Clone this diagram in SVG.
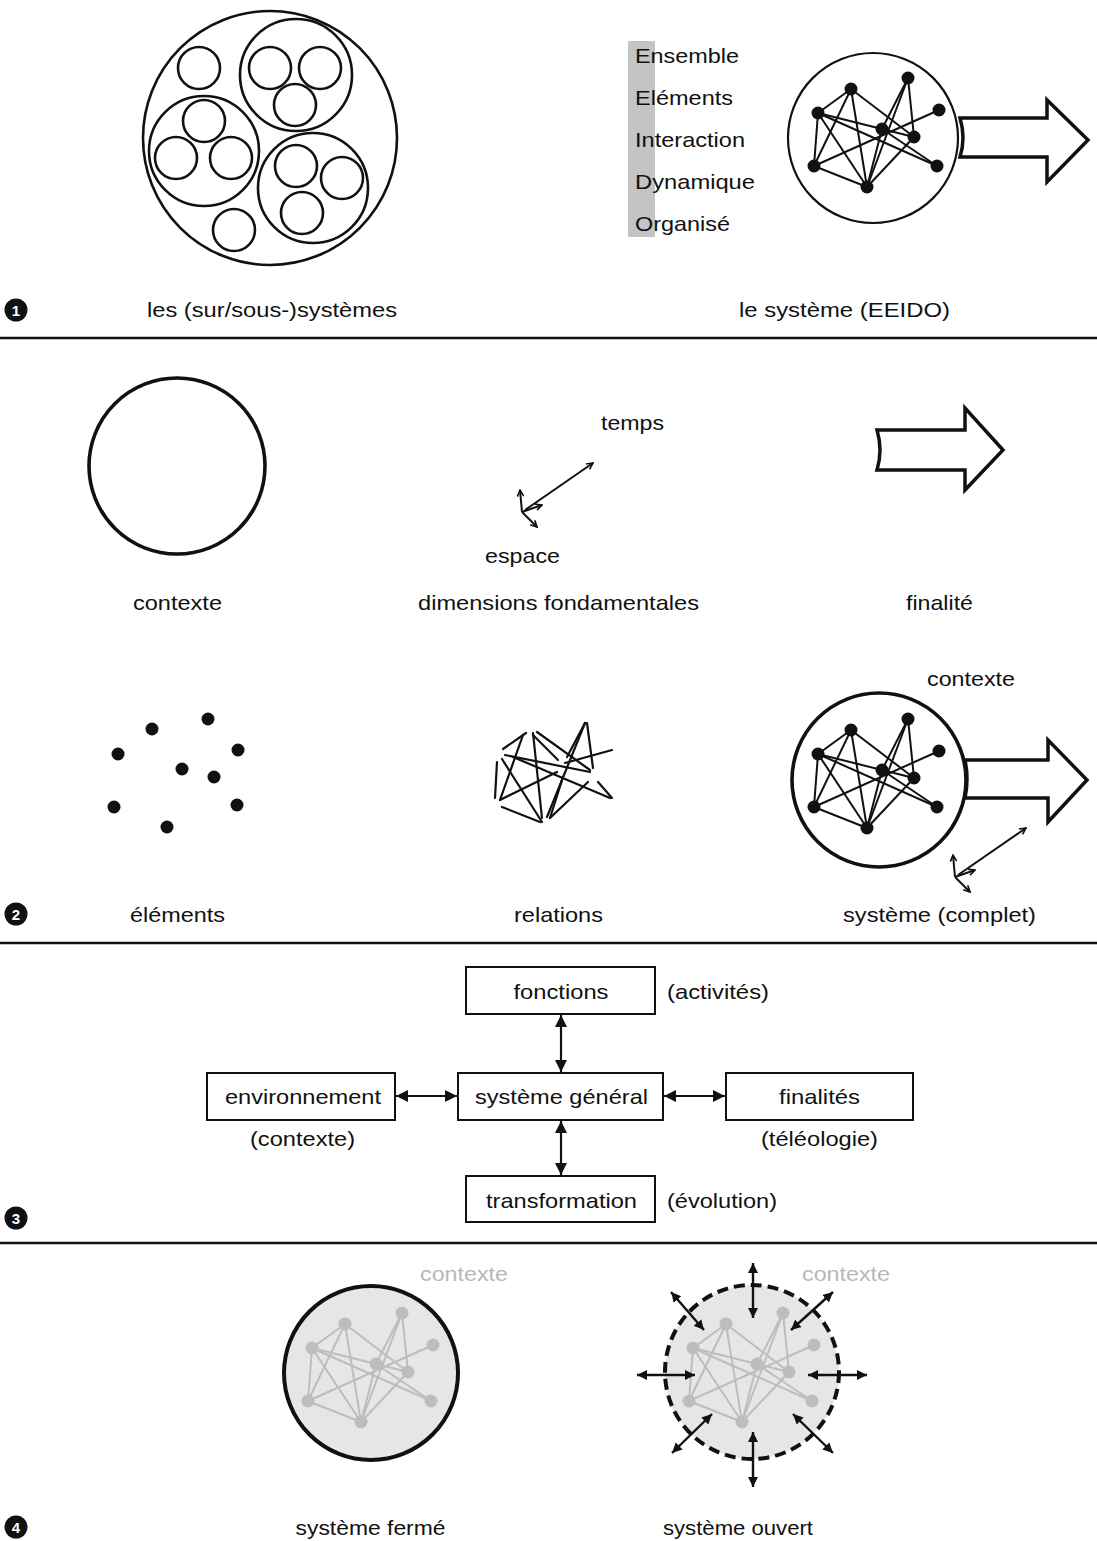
<svg xmlns="http://www.w3.org/2000/svg" width="1097" height="1541" viewBox="0 0 1097 1541">
<style>
  .t{font-family:"Liberation Sans",Arial,Helvetica,sans-serif;font-size:21px;fill:#111;}
  .m{text-anchor:middle;}
  .g{fill:#b8b8b8;}
  .c{fill:none;stroke:#111;stroke-width:2.6;}
  .ck{fill:#fff;stroke:#111;stroke-width:3.6;}
  .rule{stroke:#111;stroke-width:2.5;}
  .box{fill:#fff;stroke:#111;stroke-width:2;}
  .big{fill:#fff;stroke:#111;stroke-width:3.5;stroke-linejoin:miter;}
  .ax{stroke:#111;stroke-width:2;fill:none;marker-end:url(#vh);}
  .dbl{stroke:#111;stroke-width:2.2;fill:none;marker-start:url(#tri);marker-end:url(#tri);}
  .dbl2{stroke:#111;stroke-width:2.4;fill:none;marker-start:url(#tri2);marker-end:url(#tri2);}
  .rel{stroke:#111;stroke-width:2.2;stroke-linecap:round;}
  .num{fill:#111;}
  .numt{font-family:"Liberation Sans",Arial,sans-serif;font-size:15px;font-weight:bold;fill:#fff;text-anchor:middle;}
</style>
<defs>
  <marker id="vh" viewBox="0 0 10 10" refX="9" refY="5" markerWidth="8" markerHeight="8" markerUnits="userSpaceOnUse" orient="auto">
    <path d="M1,1 L9,5 L1,9" fill="none" stroke="#111" stroke-width="2"/>
  </marker>
  <marker id="tri" viewBox="0 0 10 10" refX="10" refY="5" markerWidth="12" markerHeight="13" markerUnits="userSpaceOnUse" orient="auto-start-reverse">
    <path d="M0,0 L10,5 L0,10 z" fill="#111"/>
  </marker>
  <marker id="tri2" viewBox="0 0 10 10" refX="10" refY="5" markerWidth="10" markerHeight="12" markerUnits="userSpaceOnUse" orient="auto-start-reverse">
    <path d="M0,0 L10,5 L0,10 z" fill="#111"/>
  </marker>
  <g id="net">
    <g stroke="currentColor" stroke-width="2" fill="none">
      <line x1="818" y1="113" x2="851" y2="89"/>
      <line x1="818" y1="113" x2="814" y2="166"/>
      <line x1="818" y1="113" x2="867" y2="187"/>
      <line x1="818" y1="113" x2="914" y2="137"/>
      <line x1="818" y1="113" x2="937" y2="166"/>
      <line x1="851" y1="89" x2="814" y2="166"/>
      <line x1="851" y1="89" x2="867" y2="187"/>
      <line x1="851" y1="89" x2="914" y2="137"/>
      <line x1="908" y1="78" x2="867" y2="187"/>
      <line x1="908" y1="78" x2="882" y2="129"/>
      <line x1="908" y1="78" x2="914" y2="137"/>
      <line x1="814" y1="166" x2="939" y2="110"/>
      <line x1="814" y1="166" x2="867" y2="187"/>
      <line x1="867" y1="187" x2="914" y2="137"/>
      <line x1="867" y1="187" x2="882" y2="129"/>
      <line x1="882" y1="129" x2="937" y2="166"/>
    </g>
    <g fill="currentColor">
      <circle cx="818" cy="113" r="6.5"/>
      <circle cx="851" cy="89" r="6.5"/>
      <circle cx="908" cy="78" r="6.5"/>
      <circle cx="939" cy="110" r="6.5"/>
      <circle cx="882" cy="129" r="6.5"/>
      <circle cx="914" cy="137" r="6.5"/>
      <circle cx="814" cy="166" r="6.5"/>
      <circle cx="937" cy="166" r="6.5"/>
      <circle cx="867" cy="187" r="6.5"/>
    </g>
  </g>
  <g id="axes">
    <line class="ax" x1="0" y1="0" x2="-2" y2="-22"/>
    <line class="ax" x1="0" y1="0" x2="20" y2="-7"/>
    <line class="ax" x1="0" y1="0" x2="15" y2="15"/>
    <line class="ax" x1="3" y1="-2" x2="71" y2="-49"/>
  </g>
</defs>

<!-- Section 1 -->
<g id="subsystems">
  <circle class="c" cx="270" cy="138" r="127"/>
  <circle class="c" cx="296" cy="75" r="56"/>
  <circle class="c" cx="270" cy="68" r="21"/>
  <circle class="c" cx="320" cy="68" r="21"/>
  <circle class="c" cx="295" cy="105" r="21"/>
  <circle class="c" cx="204" cy="151" r="55"/>
  <circle class="c" cx="204" cy="121" r="21"/>
  <circle class="c" cx="176" cy="158" r="21"/>
  <circle class="c" cx="231" cy="158" r="21"/>
  <circle class="c" cx="313" cy="188" r="55"/>
  <circle class="c" cx="296" cy="166" r="21"/>
  <circle class="c" cx="342" cy="178" r="21"/>
  <circle class="c" cx="302" cy="213" r="21"/>
  <circle class="c" cx="199" cy="68" r="21"/>
  <circle class="c" cx="234" cy="230" r="21"/>
</g>
<g id="eeido">
  <rect x="628" y="41" width="27" height="196" fill="#c4c4c4"/>
  <text class="t" x="635" y="63" textLength="104" lengthAdjust="spacingAndGlyphs">Ensemble</text>
  <text class="t" x="635" y="105" textLength="98" lengthAdjust="spacingAndGlyphs">Eléments</text>
  <text class="t" x="635" y="147" textLength="110" lengthAdjust="spacingAndGlyphs">Interaction</text>
  <text class="t" x="635" y="189" textLength="120" lengthAdjust="spacingAndGlyphs">Dynamique</text>
  <text class="t" x="635" y="231" textLength="95" lengthAdjust="spacingAndGlyphs">Organisé</text>
</g>
<g id="system1">
  <path class="big" d="M960,118 L1047,118 L1047,100 L1088,140 L1047,182 L1047,157 L960,157 Q966,138 960,118 Z"/>
  <circle cx="873" cy="138" r="85" fill="#fff" stroke="#111" stroke-width="2.2"/>
  <use href="#net" color="#111"/>
</g>
<g id="labels1">
  <circle class="num" cx="16" cy="310" r="11.5"/><text class="numt" x="16" y="315.5">1</text>
  <text class="t m" x="272" y="317" textLength="250" lengthAdjust="spacingAndGlyphs">les (sur/sous-)systèmes</text>
  <text class="t m" x="844.5" y="317" textLength="211" lengthAdjust="spacingAndGlyphs">le système (EEIDO)</text>
</g>
<line class="rule" x1="0" y1="338" x2="1097" y2="338"/>

<!-- Section 2 -->
<g id="contexte">
  <circle class="ck" cx="177" cy="466" r="88"/>
  <text class="t m" x="177.5" y="610" textLength="89" lengthAdjust="spacingAndGlyphs">contexte</text>
</g>
<g id="dimensions">
  <text class="t" x="601" y="430" textLength="63" lengthAdjust="spacingAndGlyphs">temps</text>
  <use href="#axes" transform="translate(522,512)"/>
  <text class="t" x="485" y="563" textLength="75" lengthAdjust="spacingAndGlyphs">espace</text>
  <text class="t m" x="558.5" y="610" textLength="281" lengthAdjust="spacingAndGlyphs">dimensions fondamentales</text>
</g>
<g id="finalite">
  <path class="big" d="M877,430 L965,430 L965,408 L1003,450 L965,490 L965,470 L877,470 Q883,450 877,430 Z"/>
  <text class="t m" x="939.5" y="610" textLength="67" lengthAdjust="spacingAndGlyphs">finalité</text>
</g>
<g id="elements">
  <g fill="#111">
    <circle cx="152" cy="729" r="6.5"/>
    <circle cx="208" cy="719" r="6.5"/>
    <circle cx="118" cy="754" r="6.5"/>
    <circle cx="238" cy="750" r="6.5"/>
    <circle cx="182" cy="769" r="6.5"/>
    <circle cx="214" cy="777" r="6.5"/>
    <circle cx="114" cy="807" r="6.5"/>
    <circle cx="237" cy="805" r="6.5"/>
    <circle cx="167" cy="827" r="6.5"/>
  </g>
  <text class="t m" x="177.5" y="922" textLength="95" lengthAdjust="spacingAndGlyphs">éléments</text>
</g>
<g id="relations">
  <g class="rel">
    <line x1="503" y1="749" x2="526" y2="733"/>
    <line x1="497" y1="762" x2="495" y2="798"/>
    <line x1="502" y1="759" x2="542" y2="822"/>
    <line x1="500" y1="800" x2="523" y2="735"/>
    <line x1="500" y1="800" x2="557" y2="772"/>
    <line x1="502" y1="807" x2="540" y2="822"/>
    <line x1="505" y1="755" x2="590" y2="772"/>
    <line x1="513" y1="757" x2="610" y2="798"/>
    <line x1="533" y1="733" x2="542" y2="818"/>
    <line x1="537" y1="732" x2="590" y2="770"/>
    <line x1="533" y1="735" x2="558" y2="760"/>
    <line x1="550" y1="818" x2="563" y2="777"/>
    <line x1="550" y1="818" x2="588" y2="782"/>
    <line x1="547" y1="817" x2="585" y2="723"/>
    <line x1="587" y1="723" x2="593" y2="768"/>
    <line x1="565" y1="763" x2="612" y2="750"/>
    <line x1="598" y1="782" x2="612" y2="798"/>
    <line x1="567" y1="757" x2="585" y2="723"/>
  </g>
  <text class="t m" x="558.5" y="922" textLength="89" lengthAdjust="spacingAndGlyphs">relations</text>
</g>
<g id="system2">
  <text class="t m" x="971" y="686" textLength="88" lengthAdjust="spacingAndGlyphs">contexte</text>
  <path class="big" d="M965,760 L1048,760 L1048,740 L1087,780 L1048,822 L1048,798 L965,798 Q969,779 965,760 Z"/>
  <circle class="ck" cx="879" cy="780" r="87"/>
  <use href="#net" color="#111" transform="translate(0,641)"/>
  <use href="#axes" transform="translate(955,877)"/>
  <text class="t m" x="939.5" y="922" textLength="193" lengthAdjust="spacingAndGlyphs">système (complet)</text>
</g>
<g id="marker2">
  <circle class="num" cx="16" cy="914" r="11.5"/><text class="numt" x="16" y="919.5">2</text>
</g>
<line class="rule" x1="0" y1="943" x2="1097" y2="943"/>

<!-- Section 3 -->
<g id="fonctions">
  <rect class="box" x="466" y="967" width="189" height="47"/>
  <text class="t m" x="561" y="999" textLength="95" lengthAdjust="spacingAndGlyphs">fonctions</text>
  <text class="t" x="667" y="999" textLength="102" lengthAdjust="spacingAndGlyphs">(activités)</text>
</g>
<g id="environnement">
  <rect class="box" x="207" y="1073" width="188" height="47"/>
  <text class="t m" x="303" y="1104" textLength="156" lengthAdjust="spacingAndGlyphs">environnement</text>
  <text class="t m" x="302.5" y="1146" textLength="105" lengthAdjust="spacingAndGlyphs">(contexte)</text>
</g>
<g id="systeme-general">
  <rect class="box" x="458" y="1073" width="205" height="47"/>
  <text class="t m" x="561.5" y="1104" textLength="173" lengthAdjust="spacingAndGlyphs">système général</text>
</g>
<g id="finalites">
  <rect class="box" x="726" y="1073" width="187" height="47"/>
  <text class="t m" x="819.5" y="1104" textLength="81" lengthAdjust="spacingAndGlyphs">finalités</text>
  <text class="t m" x="819.5" y="1146" textLength="117" lengthAdjust="spacingAndGlyphs">(téléologie)</text>
</g>
<g id="transformation">
  <rect class="box" x="466" y="1176" width="189" height="46"/>
  <text class="t m" x="561.5" y="1208" textLength="151" lengthAdjust="spacingAndGlyphs">transformation</text>
  <text class="t" x="667" y="1208" textLength="110" lengthAdjust="spacingAndGlyphs">(évolution)</text>
</g>
<g id="connectors">
  <line class="dbl" x1="561" y1="1015" x2="561" y2="1072"/>
  <line class="dbl" x1="561" y1="1121" x2="561" y2="1175"/>
  <line class="dbl" x1="396" y1="1096" x2="457" y2="1096"/>
  <line class="dbl" x1="664" y1="1096" x2="725" y2="1096"/>
</g>
<g id="marker3">
  <circle class="num" cx="16" cy="1218" r="11.5"/><text class="numt" x="16" y="1223.5">3</text>
</g>
<line class="rule" x1="0" y1="1243" x2="1097" y2="1243"/>

<!-- Section 4 -->
<g id="ferme">
  <text class="t m g" x="464" y="1281" textLength="88" lengthAdjust="spacingAndGlyphs">contexte</text>
  <circle cx="371" cy="1373" r="87" fill="#e6e6e6" stroke="#111" stroke-width="4"/>
  <use href="#net" color="#bdbdbd" transform="translate(-506,1235)"/>
  <text class="t m" x="370.5" y="1535" textLength="150" lengthAdjust="spacingAndGlyphs">système fermé</text>
</g>
<g id="ouvert">
  <text class="t m g" x="846" y="1281" textLength="88" lengthAdjust="spacingAndGlyphs">contexte</text>
  <circle cx="752" cy="1372" r="87" fill="#e6e6e6" stroke="#111" stroke-width="4" stroke-dasharray="11 6"/>
  <use href="#net" color="#bdbdbd" transform="translate(-125,1235)"/>
  <g>
    <line class="dbl2" x1="753" y1="1263" x2="753" y2="1318"/>
    <line class="dbl2" x1="753" y1="1432" x2="753" y2="1487"/>
    <line class="dbl2" x1="637" y1="1375" x2="695" y2="1375"/>
    <line class="dbl2" x1="808" y1="1375" x2="867" y2="1375"/>
    <line class="dbl2" x1="671" y1="1292" x2="704" y2="1330"/>
    <line class="dbl2" x1="833" y1="1292" x2="791" y2="1330"/>
    <line class="dbl2" x1="712" y1="1414" x2="672" y2="1453"/>
    <line class="dbl2" x1="793" y1="1414" x2="833" y2="1453"/>
  </g>
  <text class="t m" x="738" y="1535" textLength="150" lengthAdjust="spacingAndGlyphs">système ouvert</text>
</g>
<g id="marker4">
  <circle class="num" cx="16" cy="1527" r="11.5"/><text class="numt" x="16" y="1532.5">4</text>
</g>
</svg>
